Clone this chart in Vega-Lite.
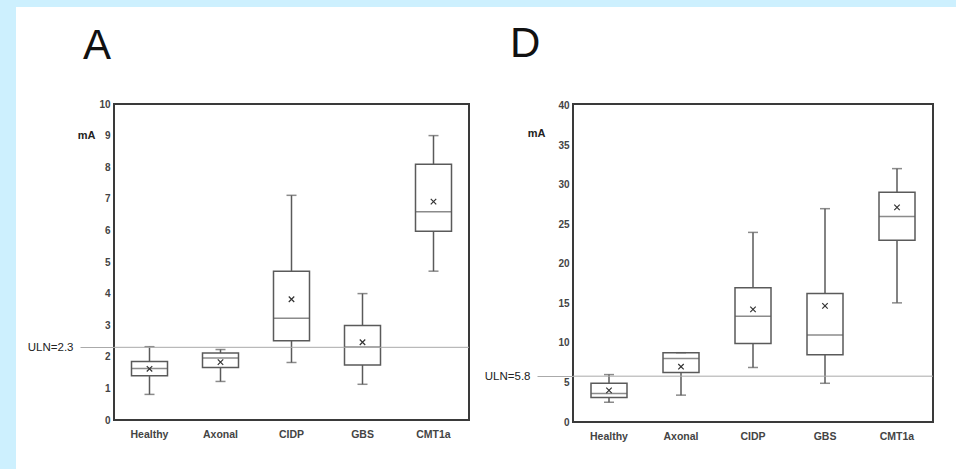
{
  "$schema": "https://vega.github.io/schema/vega-lite/v6.json",
  "background": "white",
  "padding": 0,
  "spacing": 0,
  "config": {"view": {"stroke": null}, "font": "Liberation Sans"},
  "datasets": {
    "A": [
      {"group": "Healthy", "lo": 0.81, "q1": 1.40, "med": 1.63, "q3": 1.85, "hi": 2.32, "mean": 1.62},
      {"group": "Axonal", "lo": 1.22, "q1": 1.66, "med": 1.96, "q3": 2.12, "hi": 2.23, "mean": 1.83},
      {"group": "CIDP", "lo": 1.82, "q1": 2.51, "med": 3.22, "q3": 4.71, "hi": 7.11, "mean": 3.82},
      {"group": "GBS", "lo": 1.13, "q1": 1.74, "med": 2.31, "q3": 2.99, "hi": 4.0, "mean": 2.46},
      {"group": "CMT1a", "lo": 4.71, "q1": 5.97, "med": 6.59, "q3": 8.09, "hi": 9.0, "mean": 6.91}
    ],
    "D": [
      {"group": "Healthy", "lo": 2.5, "q1": 3.1, "med": 3.6, "q3": 4.9, "hi": 6.0, "mean": 4.0},
      {"group": "Axonal", "lo": 3.4, "q1": 6.25, "med": 8.05, "q3": 8.77, "hi": 8.77, "mean": 7.0},
      {"group": "CIDP", "lo": 6.9, "q1": 9.94, "med": 13.4, "q3": 16.98, "hi": 24.0, "mean": 14.25},
      {"group": "GBS", "lo": 4.9, "q1": 8.5, "med": 11.0, "q3": 16.27, "hi": 27.0, "mean": 14.7},
      {"group": "CMT1a", "lo": 15.08, "q1": 23.0, "med": 26.0, "q3": 29.07, "hi": 32.07, "mean": 27.17}
    ]
  },
  "vconcat": [
    {
      "width": 956, "height": 7,
      "view": {"fill": "#cdf0fe", "stroke": null},
      "data": {"values": [{}]},
      "mark": {"type": "point", "opacity": 0, "size": 0},
      "encoding": {}
    },
    {
      "spacing": 10,
      "hconcat": [
        {
          "width": 16, "height": 462,
          "view": {"fill": "#cdf0fe", "stroke": null},
          "data": {"values": [{}]},
          "mark": {"type": "point", "opacity": 0, "size": 0},
          "encoding": {}
        },
        {
          "spacing": 13,
          "vconcat": [
            {
              "width": 1, "height": 1,
              "view": {"stroke": null},
              "data": {"values": [{}]},
              "mark": {"type": "point", "opacity": 0, "size": 0},
              "encoding": {}
            },
            {
              "spacing": 12,
              "hconcat": [
                {
                  "width": 355, "height": 316,
                  "view": {"stroke": "#3a3a3a", "strokeWidth": 2, "fill": "white"},
                  "title": {"text": " ", "subtitle": "A", "anchor": "start", "frame": "group", "dx": -31, "offset": 32, "fontSize": 1, "subtitleFontSize": 42, "subtitleColor": "#111", "subtitlePadding": 0, "subtitleFont": "Liberation Sans"},
                  "layer": [
                    {
                      "data": {"name": "A"},
                      "encoding": {
                        "x": {"field": "group", "type": "nominal", "sort": ["Healthy", "Axonal", "CIDP", "GBS", "CMT1a"],
                          "scale": {"paddingInner": 0, "paddingOuter": 0},
                          "axis": {"title": null, "labelAngle": 0, "ticks": false, "domain": false, "labelPadding": 9, "labelFontSize": 10.5, "labelFontWeight": "bold", "labelColor": "#444"}}
                      },
                      "layer": [
                        {"mark": {"type": "rule", "color": "#5a5a5a", "strokeWidth": 1.5},
                         "encoding": {"y": {"field": "lo", "type": "quantitative", "scale": {"domain": [0, 10], "nice": false},
                            "axis": {"title": "mA", "values": [0,1,2,3,4,5,6,7,8,9,10], "labelOverlap": false, "grid": false, "ticks": false, "domain": false, "labelPadding": 4, "labelFontSize": 10, "labelFontWeight": "bold", "labelColor": "#444", "titleAngle": 0, "titleAlign": "right", "titleBaseline": "middle", "titleX": -19, "titleY": 31, "titleFontSize": 11, "titleFontWeight": "bold", "titleColor": "#222"}},
                           "y2": {"field": "hi"}}},
                        {"mark": {"type": "bar", "size": 36, "fill": "white", "stroke": "#5a5a5a", "strokeWidth": 1.5},
                         "encoding": {"y": {"field": "q1", "type": "quantitative",
                            "axis": {"title": "mA", "values": [0,1,2,3,4,5,6,7,8,9,10], "labelOverlap": false, "grid": false, "ticks": false, "domain": false, "labelPadding": 4, "labelFontSize": 10, "labelFontWeight": "bold", "labelColor": "#444", "titleAngle": 0, "titleAlign": "right", "titleBaseline": "middle", "titleX": -19, "titleY": 31, "titleFontSize": 11, "titleFontWeight": "bold", "titleColor": "#222"}},
                           "y2": {"field": "q3"}}},
                        {"mark": {"type": "tick", "size": 36, "thickness": 1.5, "color": "#5a5a5a"},
                         "encoding": {"y": {"field": "med", "type": "quantitative",
                            "axis": {"title": "mA", "values": [0,1,2,3,4,5,6,7,8,9,10], "labelOverlap": false, "grid": false, "ticks": false, "domain": false, "labelPadding": 4, "labelFontSize": 10, "labelFontWeight": "bold", "labelColor": "#444", "titleAngle": 0, "titleAlign": "right", "titleBaseline": "middle", "titleX": -19, "titleY": 31, "titleFontSize": 11, "titleFontWeight": "bold", "titleColor": "#222"}}}},
                        {"mark": {"type": "tick", "size": 10, "thickness": 1.5, "color": "#5a5a5a"},
                         "encoding": {"y": {"field": "lo", "type": "quantitative",
                            "axis": {"title": "mA", "values": [0,1,2,3,4,5,6,7,8,9,10], "labelOverlap": false, "grid": false, "ticks": false, "domain": false, "labelPadding": 4, "labelFontSize": 10, "labelFontWeight": "bold", "labelColor": "#444", "titleAngle": 0, "titleAlign": "right", "titleBaseline": "middle", "titleX": -19, "titleY": 31, "titleFontSize": 11, "titleFontWeight": "bold", "titleColor": "#222"}}}},
                        {"mark": {"type": "tick", "size": 10, "thickness": 1.5, "color": "#5a5a5a"},
                         "encoding": {"y": {"field": "hi", "type": "quantitative",
                            "axis": {"title": "mA", "values": [0,1,2,3,4,5,6,7,8,9,10], "labelOverlap": false, "grid": false, "ticks": false, "domain": false, "labelPadding": 4, "labelFontSize": 10, "labelFontWeight": "bold", "labelColor": "#444", "titleAngle": 0, "titleAlign": "right", "titleBaseline": "middle", "titleX": -19, "titleY": 31, "titleFontSize": 11, "titleFontWeight": "bold", "titleColor": "#222"}}}},
                        {"mark": {"type": "point", "shape": "M-1,-1L1,1M-1,1L1,-1", "size": 30, "filled": false, "color": "#333", "strokeWidth": 1.2, "opacity": 1},
                         "encoding": {"y": {"field": "mean", "type": "quantitative",
                            "axis": {"title": "mA", "values": [0,1,2,3,4,5,6,7,8,9,10], "labelOverlap": false, "grid": false, "ticks": false, "domain": false, "labelPadding": 4, "labelFontSize": 10, "labelFontWeight": "bold", "labelColor": "#444", "titleAngle": 0, "titleAlign": "right", "titleBaseline": "middle", "titleX": -19, "titleY": 31, "titleFontSize": 11, "titleFontWeight": "bold", "titleColor": "#222"}}}}
                      ]
                    },
                    {
                      "data": {"values": [{"uln": 2.3}]},
                      "mark": {"type": "rule", "color": "#aaaaaa", "strokeWidth": 1},
                      "encoding": {"y": {"field": "uln", "type": "quantitative", "scale": {"domain": [0, 10], "nice": false},
                        "axis": {"orient": "left", "values": [2.3], "labelExpr": "'ULN=2.3'", "title": null, "grid": false, "domain": false, "ticks": true, "tickSize": 34, "tickColor": "#aaaaaa", "tickWidth": 1, "labelPadding": 7, "labelFontSize": 11.5, "labelColor": "#222"}}}
                    }
                  ],
                  "resolve": {"scale": {"y": "independent"}}
                },
                {
                  "width": 360, "height": 318,
                  "view": {"stroke": "#3a3a3a", "strokeWidth": 2, "fill": "white"},
                  "title": {"text": " ", "subtitle": "D", "anchor": "start", "frame": "group", "dx": -63, "offset": 36, "fontSize": 1, "subtitleFontSize": 42, "subtitleColor": "#111", "subtitlePadding": 0, "subtitleFont": "Liberation Sans"},
                  "layer": [
                    {
                      "data": {"name": "D"},
                      "encoding": {
                        "x": {"field": "group", "type": "nominal", "sort": ["Healthy", "Axonal", "CIDP", "GBS", "CMT1a"],
                          "scale": {"paddingInner": 0, "paddingOuter": 0},
                          "axis": {"title": null, "labelAngle": 0, "ticks": false, "domain": false, "labelPadding": 9, "labelFontSize": 10.5, "labelFontWeight": "bold", "labelColor": "#444"}}
                      },
                      "layer": [
                        {"mark": {"type": "rule", "color": "#5a5a5a", "strokeWidth": 1.5},
                         "encoding": {"y": {"field": "lo", "type": "quantitative", "scale": {"domain": [0, 40.25], "nice": false},
                            "axis": {"title": "mA", "values": [0,5,10,15,20,25,30,35,40], "labelOverlap": false, "grid": false, "ticks": false, "domain": false, "labelPadding": 4, "labelFontSize": 10, "labelFontWeight": "bold", "labelColor": "#444", "titleAngle": 0, "titleAlign": "right", "titleBaseline": "middle", "titleX": -28, "titleY": 29, "titleFontSize": 11, "titleFontWeight": "bold", "titleColor": "#222"}},
                           "y2": {"field": "hi"}}},
                        {"mark": {"type": "bar", "size": 36, "fill": "white", "stroke": "#5a5a5a", "strokeWidth": 1.5},
                         "encoding": {"y": {"field": "q1", "type": "quantitative",
                            "axis": {"title": "mA", "values": [0,5,10,15,20,25,30,35,40], "labelOverlap": false, "grid": false, "ticks": false, "domain": false, "labelPadding": 4, "labelFontSize": 10, "labelFontWeight": "bold", "labelColor": "#444", "titleAngle": 0, "titleAlign": "right", "titleBaseline": "middle", "titleX": -28, "titleY": 29, "titleFontSize": 11, "titleFontWeight": "bold", "titleColor": "#222"}},
                           "y2": {"field": "q3"}}},
                        {"mark": {"type": "tick", "size": 36, "thickness": 1.5, "color": "#5a5a5a"},
                         "encoding": {"y": {"field": "med", "type": "quantitative",
                            "axis": {"title": "mA", "values": [0,5,10,15,20,25,30,35,40], "labelOverlap": false, "grid": false, "ticks": false, "domain": false, "labelPadding": 4, "labelFontSize": 10, "labelFontWeight": "bold", "labelColor": "#444", "titleAngle": 0, "titleAlign": "right", "titleBaseline": "middle", "titleX": -28, "titleY": 29, "titleFontSize": 11, "titleFontWeight": "bold", "titleColor": "#222"}}}},
                        {"mark": {"type": "tick", "size": 10, "thickness": 1.5, "color": "#5a5a5a"},
                         "encoding": {"y": {"field": "lo", "type": "quantitative",
                            "axis": {"title": "mA", "values": [0,5,10,15,20,25,30,35,40], "labelOverlap": false, "grid": false, "ticks": false, "domain": false, "labelPadding": 4, "labelFontSize": 10, "labelFontWeight": "bold", "labelColor": "#444", "titleAngle": 0, "titleAlign": "right", "titleBaseline": "middle", "titleX": -28, "titleY": 29, "titleFontSize": 11, "titleFontWeight": "bold", "titleColor": "#222"}}}},
                        {"mark": {"type": "tick", "size": 10, "thickness": 1.5, "color": "#5a5a5a"},
                         "encoding": {"y": {"field": "hi", "type": "quantitative",
                            "axis": {"title": "mA", "values": [0,5,10,15,20,25,30,35,40], "labelOverlap": false, "grid": false, "ticks": false, "domain": false, "labelPadding": 4, "labelFontSize": 10, "labelFontWeight": "bold", "labelColor": "#444", "titleAngle": 0, "titleAlign": "right", "titleBaseline": "middle", "titleX": -28, "titleY": 29, "titleFontSize": 11, "titleFontWeight": "bold", "titleColor": "#222"}}}},
                        {"mark": {"type": "point", "shape": "M-1,-1L1,1M-1,1L1,-1", "size": 30, "filled": false, "color": "#333", "strokeWidth": 1.2, "opacity": 1},
                         "encoding": {"y": {"field": "mean", "type": "quantitative",
                            "axis": {"title": "mA", "values": [0,5,10,15,20,25,30,35,40], "labelOverlap": false, "grid": false, "ticks": false, "domain": false, "labelPadding": 4, "labelFontSize": 10, "labelFontWeight": "bold", "labelColor": "#444", "titleAngle": 0, "titleAlign": "right", "titleBaseline": "middle", "titleX": -28, "titleY": 29, "titleFontSize": 11, "titleFontWeight": "bold", "titleColor": "#222"}}}}
                      ]
                    },
                    {
                      "data": {"values": [{"uln": 5.8}]},
                      "mark": {"type": "rule", "color": "#aaaaaa", "strokeWidth": 1},
                      "encoding": {"y": {"field": "uln", "type": "quantitative", "scale": {"domain": [0, 40.25], "nice": false},
                        "axis": {"orient": "left", "values": [5.8], "labelExpr": "'ULN=5.8'", "title": null, "grid": false, "domain": false, "ticks": true, "tickSize": 36, "tickColor": "#aaaaaa", "tickWidth": 1, "labelPadding": 7, "labelFontSize": 11.5, "labelColor": "#222"}}}
                    }
                  ],
                  "resolve": {"scale": {"y": "independent"}}
                }
              ]
            }
          ]
        }
      ]
    }
  ]
}
